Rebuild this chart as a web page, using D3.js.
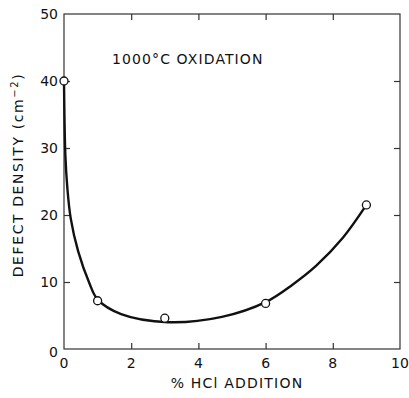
<!DOCTYPE html>
<html>
<head>
<meta charset="utf-8">
<script src="https://cdn.jsdelivr.net/npm/d3@7"></script>
<style>
  body { margin: 0; background: #fff; }
  text { font-family: "DejaVu Sans", "Liberation Sans", Arial, sans-serif; fill: #111; }
</style>
</head>
<body>
<div id="chart"></div>
<script>
// measured points
const hclPct = [0, 1, 3, 6, 9];
const defectDensity = [40, 7.2, 4.6, 6.8, 21.5];

// hand-drawn fit curve
const curveX = [0, 0.04, 0.1, 0.2, 0.42, 0.75, 1.0, 1.7, 3.1, 4.7, 6.0, 6.8, 7.5, 8.3, 9.0];
const curveY = [40, 29, 24, 19.5, 14.6, 9.9, 7.4, 5.2, 4.0, 4.8, 7.0, 9.6, 12.4, 16.6, 21.5];

const xTicks = [0, 2, 4, 6, 8, 10];
const yTicks = [0, 10, 20, 30, 40, 50];

const W = 409, H = 398;
const margin = { top: 14, right: 9, bottom: 49, left: 64 },
    width = W - margin.left - margin.right,
    height = H - margin.top - margin.bottom;

const svg = d3.select("#chart").append("svg")
    .attr("width", W)
    .attr("height", H);

const g = svg.append("g")
    .attr("transform", `translate(${margin.left},${margin.top})`);

const x = d3.scaleLinear().domain([0, 10]).range([0, width]);
const y = d3.scaleLinear().domain([0, 50]).range([height, 0]);

// frame
g.append("rect")
    .attr("width", width).attr("height", height)
    .attr("fill", "none").attr("stroke", "#333").attr("stroke-width", 1.2);

// inward ticks on all four sides
const inner = xTicks.filter(d => d > 0 && d < 10);
const innerY = yTicks.filter(d => d > 0 && d < 50);
g.append("g").call(d3.axisBottom(x).tickValues(inner).tickSize(-6).tickFormat(""))
    .attr("transform", `translate(0,${height})`);
g.append("g").call(d3.axisTop(x).tickValues(inner).tickSize(-6).tickFormat(""));
g.append("g").call(d3.axisLeft(y).tickValues(innerY).tickSize(-6).tickFormat(""));
g.append("g").call(d3.axisRight(y).tickValues(innerY).tickSize(-6).tickFormat(""))
    .attr("transform", `translate(${width},0)`);
g.selectAll(".domain").remove();
g.selectAll(".tick line").attr("stroke", "#333").attr("stroke-width", 1.2);

// tick labels
g.selectAll(".xlab").data(xTicks).enter().append("text")
    .attr("x", d => x(d)).attr("y", height + 19)
    .attr("text-anchor", "middle").attr("font-size", 14)
    .text(d => d);
g.selectAll(".ylab").data(yTicks).enter().append("text")
    .attr("x", -6).attr("y", d => y(d) + 5 + (d === 0 ? 3 : 0))
    .attr("text-anchor", "end").attr("font-size", 14)
    .text(d => d);

// axis titles
svg.append("text")
    .attr("x", 237).attr("y", 388)
    .attr("text-anchor", "middle").attr("font-size", 14)
    .attr("letter-spacing", 1.2)
    .text("% HCl ADDITION");

svg.append("text")
    .attr("transform", "translate(23,175) rotate(-90)")
    .attr("text-anchor", "middle").attr("font-size", 14)
    .attr("letter-spacing", 1.6)
    .html('DEFECT DENSITY (cm<tspan dy="-5" font-size="10">−2</tspan><tspan dy="5">)</tspan>');

g.append("text")
    .attr("x", x(1.43)).attr("y", y(42.6))
    .attr("font-size", 14).attr("letter-spacing", 1.1)
    .text("1000°C  OXIDATION");

// fitted curve
const curveData = curveX.map((d, i) => [d, curveY[i]]);
g.append("path")
    .datum(curveData)
    .attr("fill", "none").attr("stroke", "#111").attr("stroke-width", 2.4)
    .attr("d", d3.line().x(d => x(d[0])).y(d => y(d[1])).curve(d3.curveCatmullRom.alpha(0.5)));

// data points
g.selectAll(".pt").data(hclPct.map((d, i) => [d, defectDensity[i]])).enter().append("circle")
    .attr("cx", d => x(d[0])).attr("cy", d => y(d[1]))
    .attr("r", 4)
    .attr("fill", "#fff").attr("stroke", "#111").attr("stroke-width", 1.3);
</script>
</body>
</html>
